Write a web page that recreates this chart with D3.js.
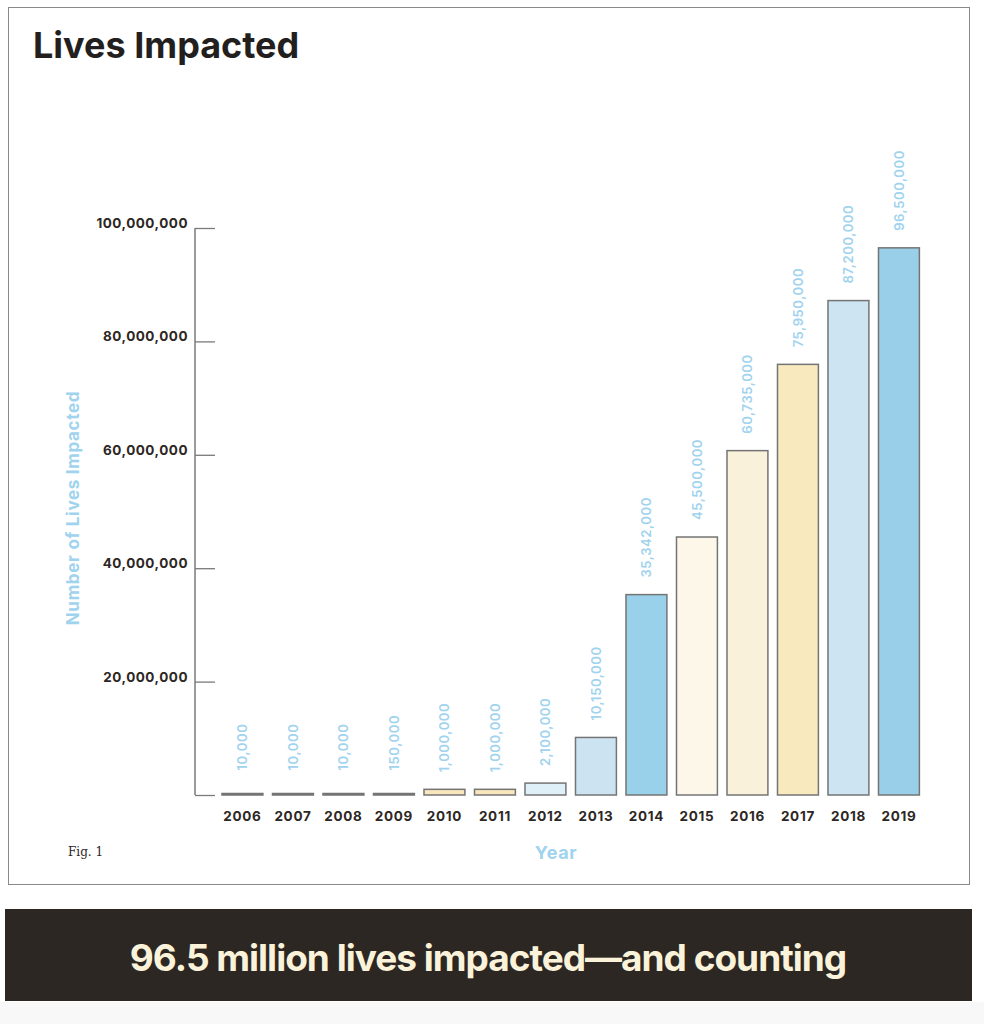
<!DOCTYPE html>
<html><head><meta charset="utf-8">
<script src="https://cdn.jsdelivr.net/npm/d3@7"></script>
<style>
html,body{margin:0;padding:0;background:#f8f8f8;}
svg{display:block;}
</style></head>
<body>
<script>
const years = ["2006","2007","2008","2009","2010","2011","2012","2013","2014","2015","2016","2017","2018","2019"];
const lives = [10000,10000,10000,150000,1000000,1000000,2100000,10150000,35342000,45500000,60735000,75950000,87200000,96500000];
const barColors = ["#5a5552","#5a5552","#5a5552","#c9c4bb","#f8e7bd","#f8e7bd","#dff0f9","#cce4f2","#99d0ea","#fcf7e9","#faf1da","#f8e9bf","#cde4f2","#99cfe9"];
const yTicks = [20000000,40000000,60000000,80000000,100000000];
const title = "Lives Impacted";
const banner = "96.5 million lives impacted\u2014and counting";

const W = 984, H = 1024;
const svg = d3.select("body").append("svg").attr("width", W).attr("height", H);
const font = "Inter, 'Noto Sans', sans-serif";
const blue = "#9fd3ee";
const dark = "#2d2724";

svg.append("rect").attr("x",0).attr("y",0).attr("width",W).attr("height",1002).attr("fill","#fff");
svg.append("rect").attr("x",8.5).attr("y",7.5).attr("width",961).attr("height",877)
  .attr("fill","#fff").attr("stroke","#8a8a8a").attr("stroke-width",1);

svg.append("text").attr("x",33).attr("y",58).text(title)
  .attr("font-family",font).attr("font-weight",700).attr("font-size",36).attr("fill","#231f1e")
  .attr("letter-spacing","0");

const y = d3.scaleLinear().domain([0,100000000]).range([795,228]);
const x = d3.scaleBand().domain(years).range([217.2,924.2]).paddingInner(0.19).paddingOuter(0.095);

// y axis
const yAxis = d3.axisRight(y).tickValues([0].concat(yTicks)).tickSize(20).tickFormat("");
const gy = svg.append("g").attr("transform","translate(195,0)").call(yAxis);
gy.select(".domain").remove();
gy.selectAll(".tick line").attr("stroke","#7a7a7a").attr("stroke-width",1.3);
svg.append("line").attr("x1",195).attr("x2",195).attr("y1",y(100000000)).attr("y2",y(0))
  .attr("stroke","#7a7a7a").attr("stroke-width",1.5);

svg.selectAll("text.ytick").data(yTicks).enter().append("text")
  .attr("x",188).attr("y",d=>y(d)+0).attr("text-anchor","end")
  .attr("font-family",font).attr("font-weight",700).attr("font-size",13.5).attr("fill",dark)
  .attr("letter-spacing","0.5")
  .text(d=>d3.format(",")(d));

// bars
svg.selectAll("rect.bar").data(years).enter().append("rect")
  .attr("x",d=>x(d)).attr("width",x.bandwidth())
  .attr("y",(d,i)=>Math.min(y(lives[i]), y(0)-1.5))
  .attr("height",(d,i)=>Math.max(y(0)-y(lives[i]),1.5))
  .attr("fill",(d,i)=>barColors[i]).attr("stroke","#747474").attr("stroke-width",1.5);

// value labels
svg.selectAll("text.val").data(years).enter().append("text")
  .attr("transform",(d,i)=>{
    const top = Math.min(y(lives[i]), y(0)-1.5);
    const gap = lives[i] < 500000 ? 23 : 17;
    return `translate(${x(d)+x.bandwidth()/2+5},${top-gap}) rotate(-90)`;
  })
  .attr("font-family",font).attr("font-weight",600).attr("font-size",13).attr("fill",blue)
  .attr("letter-spacing","0.6")
  .text((d,i)=>d3.format(",")(lives[i]));

// x labels
const xAxis = d3.axisBottom(x).tickSize(0).tickPadding(0);
const gx = svg.append("g").attr("transform","translate(0,821)").call(xAxis);
gx.select(".domain").remove();
gx.selectAll("text").attr("font-family",font).attr("font-weight",700).attr("font-size",13.5)
  .attr("fill",dark).attr("dy",0).attr("letter-spacing","0.7");

svg.append("text").attr("transform","translate(79,508) rotate(-90)").attr("text-anchor","middle")
  .attr("font-family",font).attr("font-weight",700).attr("font-size",17).attr("fill",blue)
  .attr("letter-spacing","0.7")
  .text("Number of Lives Impacted");
svg.append("text").attr("x",556).attr("y",859).attr("text-anchor","middle")
  .attr("font-family",font).attr("font-weight",700).attr("font-size",18).attr("fill",blue)
  .attr("letter-spacing","0.6")
  .text("Year");
svg.append("text").attr("x",68).attr("y",856)
  .attr("font-family","'DejaVu Serif', 'Liberation Serif', serif").attr("font-size",12).attr("fill",dark)
  .text("Fig. 1");

// banner
svg.append("rect").attr("x",5).attr("y",909).attr("width",967).attr("height",92).attr("fill",dark);
svg.append("text").attr("x",488).attr("y",971).attr("text-anchor","middle")
  .attr("font-family",font).attr("font-weight",700).attr("font-size",37).attr("fill","#fbf2da")
  .attr("letter-spacing","-1")
  .text(banner);
</script>
</body></html>
